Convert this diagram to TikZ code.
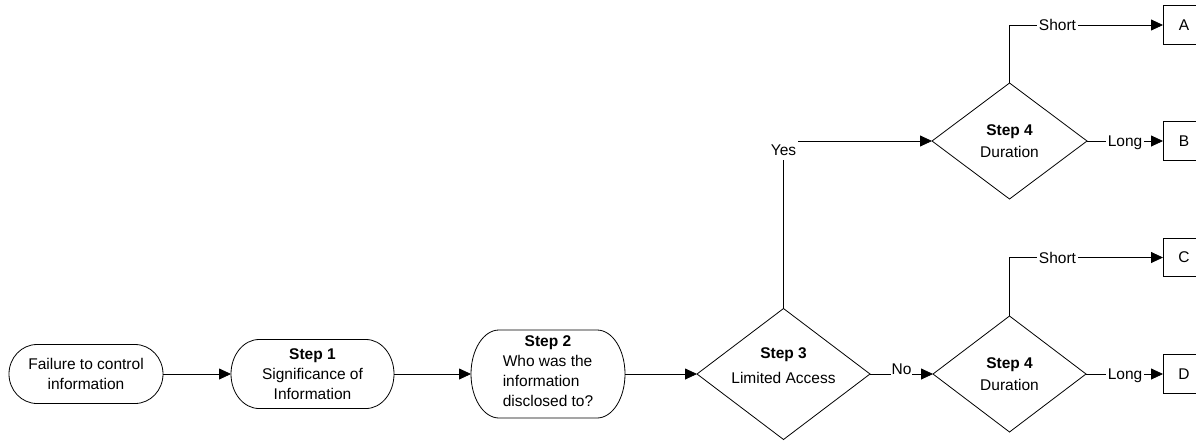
\documentclass[tikz,border=0pt]{standalone}
\usepackage{fontspec}
\setmainfont{Liberation Sans}
\usetikzlibrary{arrows.meta}
\begin{document}
\begin{tikzpicture}[x=1pt,y=-1pt,
  every node/.style={font=\fontsize{15.5}{20}\selectfont, inner sep=0pt, outer sep=0pt},
  ln/.style={line width=0.8pt, draw=black},
  arr/.style={ln, -{Triangle[length=12pt,width=11pt]}},
  term/.style={align=center},
  dia/.style={align=center, minimum width=#1},
  endbox/.style={draw, line width=0.8pt, minimum width=42pt, minimum height=38.5pt},
  lab/.style={fill=white, inner xsep=1.5pt, inner ysep=1.5pt, anchor=base}
]
\useasboundingbox (0,0) rectangle (1196,440);
\clip (0,0) rectangle (1196,440);

% terminator / process nodes
\node[term, minimum width=154pt, minimum height=59pt] (f) at (86,374) {Failure to control\\information};
\node[term, minimum width=163pt, minimum height=69pt] (s1) at (312.5,374) {\textbf{Step 1}\\Significance of\\Information};
\node[term, minimum width=154pt, minimum height=88pt] (s2) at (548,374) {\textbf{Step 2}\\\begin{tabular}[t]{@{}l@{}}Who was the\\information\\disclosed to?\end{tabular}};
\foreach \n/\ry in {f/29.5,s1/34.5,s2/44}
  \draw[ln] ([xshift=28pt]\n.north west) arc[start angle=90,end angle=270,x radius=28pt,y radius=\ry pt]
    -- ([xshift=-28pt]\n.south east) arc[start angle=-90,end angle=90,x radius=28pt,y radius=\ry pt] -- cycle;

% decision nodes
\node[dia=173pt, minimum height=131pt] (s3) at (783.5,374) {};
\node[align=center] (s3t) at (783.5,366) {\textbf{Step 3}\\[5pt]Limited Access};
\node[dia=155pt, minimum height=116pt] (s4a) at (1009.5,141) {\textbf{Step 4}\\[2pt]Duration};
\node[dia=153pt, minimum height=116pt] (s4b) at (1009.5,374) {\textbf{Step 4}\\[2pt]Duration};
\foreach \n in {s3,s4a,s4b}
  \draw[ln] (\n.north) -- (\n.east) -- (\n.south) -- (\n.west) -- cycle;

% outcome boxes
\node[endbox] (A) at (1184,25) {A};
\node[endbox] (B) at (1184,141) {B};
\node[endbox] (C) at (1184,257.5) {C};
\node[endbox] (D) at (1184,374) {D};

% connectors
\draw[arr] (f.east) -- (s1.west);
\draw[arr] (s1.east) -- (s2.west);
\draw[arr] (s2.east) -- (s3.west);
\draw[arr] (s3.north) |- (s4a.west);
\draw[arr] (s3.east) -- (s4b.west);
\draw[arr] (s4a.north) |- (A.west);
\draw[arr] (s4a.east) -- (B.west);
\draw[arr] (s4b.north) |- (C.west);
\draw[arr] (s4b.east) -- (D.west);

% connector labels
\node[lab, inner xsep=2pt, inner ysep=5pt] (yes) at (783.5,155) {Yes};
\node[lab, inner xsep=1pt] (no) at (901.5,374) {No};
\node[lab] (sa) at (1057.5,30.6) {Short};
\node[lab] (la) at (1125,146.5) {Long};
\node[lab] (sc) at (1057.5,263.1) {Short};
\node[lab] (lb) at (1125,379.5) {Long};
\end{tikzpicture}
\end{document}
